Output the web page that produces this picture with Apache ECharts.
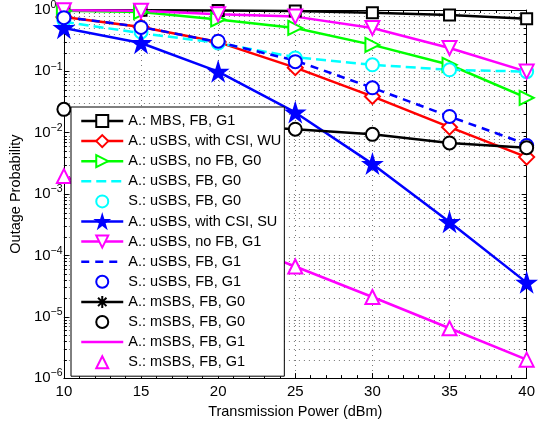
<!DOCTYPE html>
<html>
<head>
<meta charset="utf-8">
<script src="https://cdn.jsdelivr.net/npm/echarts@6/dist/echarts.min.js"></script>
<style>
html,body{margin:0;padding:0;background:#fff;}
#chart{width:538px;height:424px;}
</style>
</head>
<body>
<div id="chart"></div>
<script>
// ---- data ----
const powers = [10, 15, 20, 25, 30, 35, 40];
const mbsFbG1      = [0.99, 0.99, 0.98, 0.96, 0.90, 0.83, 0.72];
const usbsCsiWu    = [0.77, 0.53, 0.30, 0.115, 0.039, 0.0123, 0.0040];
const usbsNoFbG0   = [0.97, 0.93, 0.70, 0.51, 0.27, 0.128, 0.037];
const usbsFbG0     = [0.64, 0.42, 0.29, 0.17, 0.128, 0.106, 0.099];
const usbsFbG0Sim  = [0.68, 0.44, 0.29, 0.165, 0.128, 0.106, 0.099];
const usbsCsiSu    = [0.51, 0.29, 0.099, 0.0214, 0.0031, 0.00035, 0.000036];
const usbsNoFbG1   = [0.99, 0.97, 0.85, 0.78, 0.51, 0.24, 0.099];
const usbsFbG1     = [0.77, 0.53, 0.30, 0.150, 0.054, 0.0184, 0.0065];
const usbsFbG1Sim  = [0.75, 0.52, 0.31, 0.144, 0.054, 0.0184, 0.0062];
const msbsFbG0     = [0.024, 0.017, 0.0135, 0.0114, 0.0094, 0.0068, 0.0057];
const msbsFbG0Sim  = [0.024, 0.017, 0.0135, 0.0114, 0.0094, 0.0068, 0.0057];
const msbsFbG1     = [0.00196, 0.00063, 0.00020, 0.000066, 0.000021, 0.0000065, 0.0000020];
const msbsFbG1Sim  = [0.00196, 0.00063, 0.00020, 0.000066, 0.000021, 0.0000065, 0.0000020];
const seriesNames = [
  'A.: MBS, FB, G1', 'A.: uSBS, with CSI, WU', 'A.: uSBS, no FB, G0', 'A.: uSBS, FB, G0',
  'S.: uSBS, FB, G0', 'A.: uSBS, with CSI, SU', 'A.: uSBS, no FB, G1', 'A.: uSBS, FB, G1',
  'S.: uSBS, FB, G1', 'A.: mSBS, FB, G0', 'S.: mSBS, FB, G0', 'A.: mSBS, FB, G1', 'S.: mSBS, FB, G1'
];
const simOnly = ['S.: uSBS, FB, G0', 'S.: uSBS, FB, G1', 'S.: mSBS, FB, G0', 'S.: mSBS, FB, G1'];
const xTicks = [10, 15, 20, 25, 30, 35, 40];
const yDecades = [-6, -5, -4, -3, -2, -1, 0];
// minor log grid positions (2..9 in each decade)
const minorVals = [];
for (let d = -6; d < 0; d++) for (let k = 2; k <= 9; k++) minorVals.push(k * Math.pow(10, d));

const FONT = 'Liberation Sans, Arial, Helvetica, sans-serif';
const STAR = 'path://M50,0 L61,35 L98,35 L68,57 L79,91 L50,70 L21,91 L32,57 L2,35 L39,35 Z';
const AST = 'path://M5,0L5,10M0,5L10,5M1.5,1.5L8.5,8.5M8.5,1.5L1.5,8.5';
const LW = 2.5;

function pts(arr) { return powers.map((x, i) => [x, arr[i]]); }

function lineSeries(name, data, color, opts) {
  opts = opts || {};
  const hasSym = !!opts.symbol;
  return {
    name: name, type: 'line', data: pts(data), clip: false,
    symbol: opts.symbol || 'circle', symbolSize: opts.size || 12, symbolRotate: opts.rotate || 0,
    showSymbol: hasSym,
    lineStyle: { color: color, width: opts.noLine ? 0 : LW, type: opts.dash || 'solid', opacity: opts.noLine ? 0 : 1 },
    itemStyle: hasSym
      ? Object.assign({ color: color, borderColor: color, borderWidth: 2 }, opts.itemStyle || {})
      : { color: 'rgba(0,0,0,0)', borderColor: 'rgba(0,0,0,0)', borderWidth: 0 },
    emphasis: { disabled: true }, z: 3
  };
}

const chart = echarts.init(document.getElementById('chart'), null, { renderer: 'canvas' });
const gridColor = '#777';
const gridDash = [1, 4];
const option = {
  animation: false,
  backgroundColor: '#fff',
  textStyle: { fontFamily: FONT },
  grid: { left: 62, right: 8, top: 10, bottom: 44, show: false },
  xAxis: [{
    type: 'value', min: 10, max: 40, interval: 5,
    name: 'Transmission Power (dBm)', nameLocation: 'middle', nameGap: 22,
    nameTextStyle: { fontSize: 14.5, color: '#000', fontFamily: FONT },
    axisLine: { show: true, onZero: false, lineStyle: { color: '#000', width: 1 } },
    axisTick: { show: true, inside: true, length: 5, lineStyle: { color: '#000' } },
    minorTick: { show: true, splitNumber: 5, length: 3, lineStyle: { color: '#000' } },
    axisLabel: { fontSize: 15, color: '#000', margin: 6, fontFamily: FONT },
    splitLine: { show: true, lineStyle: { color: gridColor, width: 1, type: gridDash } }
  }, {
    type: 'value', min: 10, max: 40, interval: 5, position: 'top',
    axisLine: { show: true, onZero: false, lineStyle: { color: '#000', width: 1 } },
    axisTick: { show: true, inside: true, length: 5, lineStyle: { color: '#000' } },
    minorTick: { show: true, splitNumber: 5, length: 3, lineStyle: { color: '#000' } },
    axisLabel: { show: false }, splitLine: { show: false }
  }],
  yAxis: [{
    type: 'log', logBase: 10, min: 1e-6, max: 1,
    name: 'Outage Probability', nameLocation: 'middle', nameGap: 34, nameRotate: 90,
    nameTextStyle: { fontSize: 14.5, color: '#000', fontFamily: FONT },
    axisLine: { show: true, onZero: false, lineStyle: { color: '#000', width: 1 } },
    axisTick: { show: true, inside: true, length: 5, lineStyle: { color: '#000' } },
    axisLabel: {
      margin: 30, align: 'left', fontFamily: FONT,
      formatter: function (v) {
        const e = Math.round(Math.log10(v));
        return '{b|10}{e|' + (e < 0 ? '\u2212' + (-e) : String(e)) + '}';
      },
      rich: {
        b: { fontSize: 15, color: '#000', fontFamily: FONT },
        e: { fontSize: 10.5, color: '#000', fontFamily: FONT, verticalAlign: 'bottom', padding: [0, 0, 9, 0] }
      }
    },
    splitLine: { show: true, lineStyle: { color: gridColor, width: 1, type: gridDash } }
  }, {
    type: 'log', logBase: 10, min: 1e-6, max: 1, position: 'right',
    axisLine: { show: true, onZero: false, lineStyle: { color: '#000', width: 1 } },
    axisTick: { show: true, inside: true, length: 5, lineStyle: { color: '#000' } },
    axisLabel: { show: false }, splitLine: { show: false }
  }],
  legend: {
    orient: 'vertical', left: 71, top: 107,
    data: seriesNames.map(n => simOnly.indexOf(n) >= 0 ? { name: n } : { name: n, lineStyle: { width: LW } }),
    backgroundColor: '#fff', borderColor: '#000', borderWidth: 1, borderRadius: 0,
    padding: [6.5, 3, 6.5, 9],
    itemWidth: 42, itemHeight: 15, itemGap: 5.1,
    textStyle: { fontSize: 14.5, color: '#000', fontFamily: FONT },
    selectedMode: false, z: 10
  },
  series: [
    {
      name: 'minorgrid', type: 'custom', silent: true, z: 1, clip: false,
      data: minorVals.map(v => [10, v]),
      encode: { x: 0, y: 1 },
      renderItem: function (params, api) {
        const cs = params.coordSys;
        const y = Math.round(api.coord([10, api.value(1)])[1]) + 0.5;
        return {
          type: 'group', children: [
            { type: 'line', shape: { x1: cs.x, y1: y, x2: cs.x + cs.width, y2: y }, style: { stroke: gridColor, lineWidth: 1, lineDash: gridDash } },
            { type: 'line', shape: { x1: cs.x, y1: y, x2: cs.x + 3, y2: y }, style: { stroke: '#000', lineWidth: 1 } },
            { type: 'line', shape: { x1: cs.x + cs.width - 3, y1: y, x2: cs.x + cs.width, y2: y }, style: { stroke: '#000', lineWidth: 1 } }
          ]
        };
      }
    },
    lineSeries(seriesNames[0], mbsFbG1, '#000000', { symbol: 'emptyRect', size: 11 }),
    lineSeries(seriesNames[1], usbsCsiWu, '#ff0000', { symbol: 'emptyDiamond', size: 15 }),
    lineSeries(seriesNames[2], usbsNoFbG0, '#00ff00', { symbol: 'emptyTriangle', size: 14, rotate: -90 }),
    lineSeries(seriesNames[3], usbsFbG0, '#00ffff', { dash: [10, 5] }),
    lineSeries(seriesNames[4], usbsFbG0Sim, '#00ffff', { symbol: 'emptyCircle', size: 13, noLine: true }),
    lineSeries(seriesNames[5], usbsCsiSu, '#0000ff', { symbol: STAR, size: 17 }),
    lineSeries(seriesNames[6], usbsNoFbG1, '#ff00ff', { symbol: 'emptyTriangle', size: 14, rotate: 180 }),
    lineSeries(seriesNames[7], usbsFbG1, '#0000ff', { dash: [8, 6] }),
    lineSeries(seriesNames[8], usbsFbG1Sim, '#0000ff', { symbol: 'emptyCircle', size: 13, noLine: true }),
    lineSeries(seriesNames[9], msbsFbG0, '#000000', { symbol: AST, size: 10, itemStyle: { borderWidth: 1.5 } }),
    lineSeries(seriesNames[10], msbsFbG0Sim, '#000000', { symbol: 'emptyCircle', size: 13, noLine: true }),
    lineSeries(seriesNames[11], msbsFbG1, '#ff00ff', {}),
    lineSeries(seriesNames[12], msbsFbG1Sim, '#ff00ff', { symbol: 'emptyTriangle', size: 14, noLine: true })
  ]
};
chart.setOption(option);
</script>
</body>
</html>
